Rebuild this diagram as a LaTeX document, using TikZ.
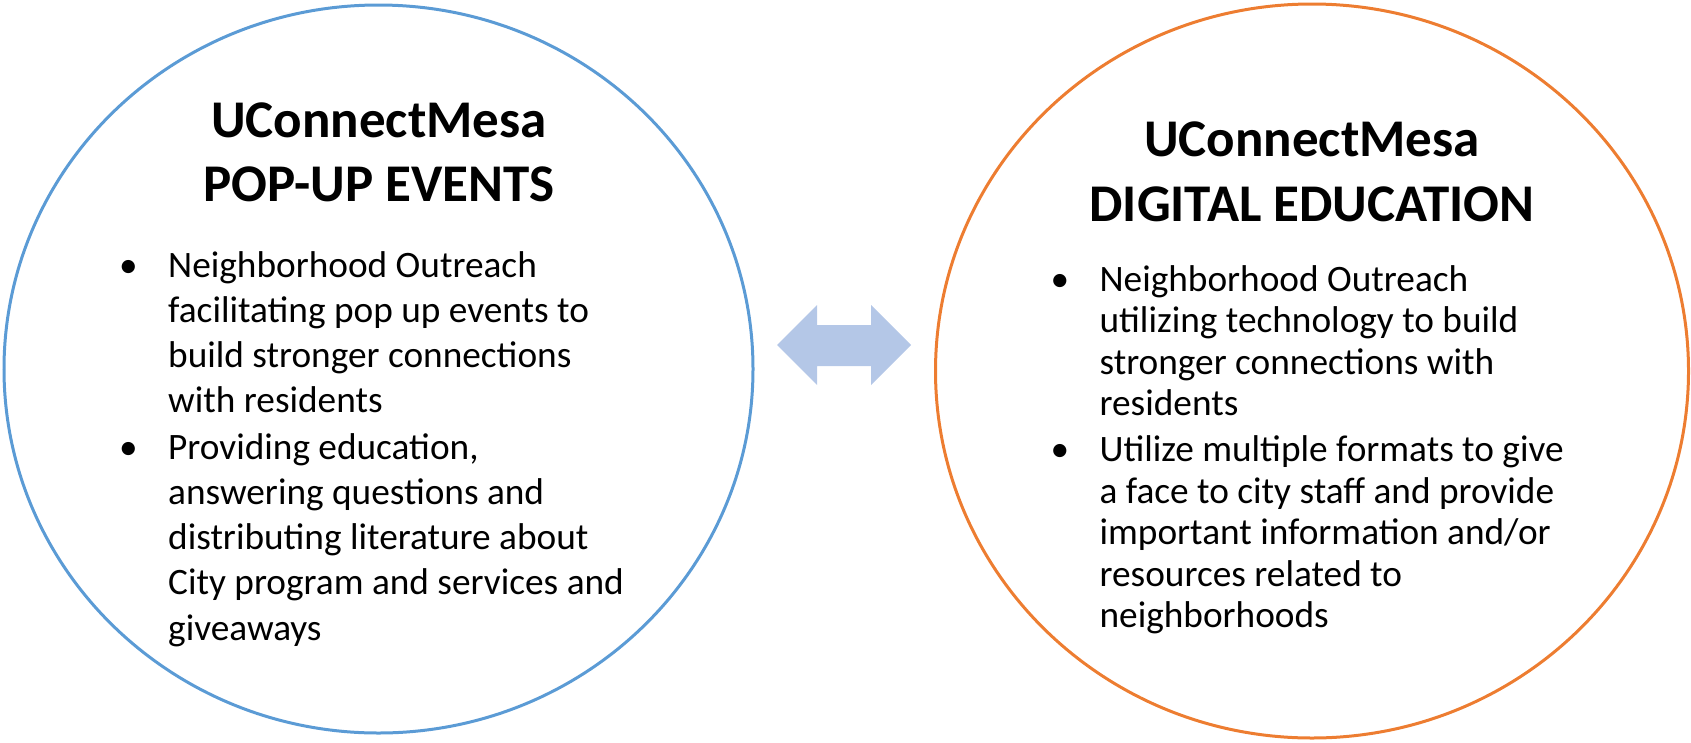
\documentclass[tikz,border=0pt]{standalone}
\usepackage{fontspec}
\setmainfont{Carlito}
\usetikzlibrary{shapes.geometric}
\definecolor{cblue}{HTML}{5B9BD5}
\definecolor{corange}{HTML}{ED7D31}
\definecolor{carrow}{HTML}{B4C7E7}
\tikzset{
  ring/.style={draw, ellipse, line width=3pt, inner sep=0pt},
  title/.style={align=center, inner sep=0pt, anchor=base, font=\fontsize{53}{64}\selectfont\bfseries},
  titler/.style={align=center, inner sep=0pt, anchor=base, font=\fontsize{53}{65.5}\selectfont\bfseries},
  body/.style={align=left, inner sep=0pt, anchor=base west, font=\fontsize{37.3}{45.3}\selectfont},
  bodyr/.style={align=left, inner sep=0pt, anchor=base west, font=\fontsize{37.3}{41.6}\selectfont},
  dot/.style={inner sep=0pt, anchor=base, font=\fontsize{37.3}{40}\selectfont}
}
\begin{document}
\begin{tikzpicture}[x=1pt,y=-1pt]
\useasboundingbox (0,0) rectangle (1691,742);
\node[ring, draw=cblue, minimum width=749pt, minimum height=728pt] (lc) at (378.5,369) {};
\node[ring, draw=corange, minimum width=753pt, minimum height=734pt] (rc) at (1312,371) {};
% arrow
\fill[carrow] (777,345) -- (817,305) -- (817,325) -- (871,325) -- (871,305) -- (911,345)
  -- (871,385) -- (871,366) -- (817,366) -- (817,385) -- cycle;
% left (base anchor = last line's baseline)
\node[title] (lt) at (379,201) {UConnectMesa\\POP-UP EVENTS};
\node[dot] (ld1) at (128.5,277) {•};
\node[body] (lb1) at (168,412.9) {Neighborhood Outreach\\facilitating pop up events to\\build stronger connections\\with residents};
\node[dot] (ld2) at (128.5,459) {•};
\node[body] (lb2) at (168,640.2) {Providing education,\\answering questions and\\distributing literature about\\City program and services and\\giveaways};
% right
\node[titler] (rt) at (1312,221.5) {UConnectMesa\\DIGITAL EDUCATION};
\node[dot] (rd1) at (1060,291) {•};
\node[bodyr] (rb1) at (1099.4,415.8) {Neighborhood Outreach\\utilizing technology to build\\stronger connections with\\residents};
\node[dot] (rd2) at (1060,461.4) {•};
\node[bodyr] (rb2) at (1099.4,627.8) {Utilize multiple formats to give\\a face to city staff and provide\\important information and/or\\resources related to\\neighborhoods};
\end{tikzpicture}
\end{document}
